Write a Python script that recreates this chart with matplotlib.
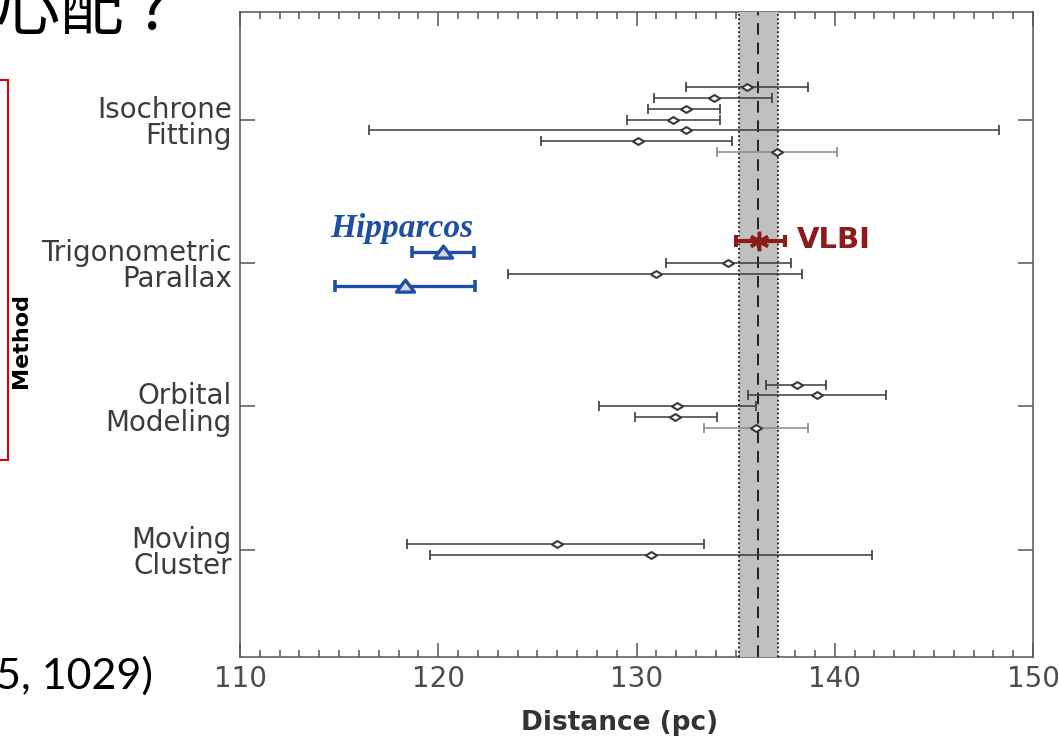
import matplotlib
matplotlib.use('Agg')
import matplotlib.pyplot as plt
import matplotlib.transforms as mtransforms
from matplotlib.path import Path
from matplotlib.patches import Rectangle
import numpy as np

W, H = 1058, 736

# ---------------- data ----------------
methods = ['Isochrone\nFitting', 'Trigonometric\nParallax', 'Orbital\nModeling', 'Moving\nCluster']
method_pos = [3, 2, 1, 0]

iso_dist = [135.56, 133.9, 132.5, 131.85, 132.5, 130.07, 137.1]
iso_lo = [132.5, 130.9, 130.6, 129.5, 116.5, 125.2, 134.07]
iso_hi = [138.65, 136.85, 134.2, 134.2, 148.3, 134.8, 140.1]
iso_off = [0.225, 0.15, 0.075, 0.0, -0.075, -0.15, -0.225]
iso_light = [False, False, False, False, False, False, True]

trig_dist = [134.63, 130.96]
trig_lo = [131.5, 123.5]
trig_hi = [137.78, 138.37]
trig_off = [0.0, -0.075]

hip_dist = [120.24, 118.33]
hip_lo = [118.7, 114.8]
hip_hi = [121.8, 121.85]
hip_off = [0.075, -0.16]

vlbi_dist = [136.18]
vlbi_lo = [135.02]
vlbi_hi = [137.5]
vlbi_off = [0.15]

orb_dist = [138.08, 139.1, 132.05, 131.95, 136.04]
orb_lo = [136.55, 135.64, 128.1, 129.9, 133.43]
orb_hi = [139.58, 142.6, 136.04, 134.04, 138.67]
orb_off = [0.15, 0.075, 0.0, -0.075, -0.15]
orb_light = [False, False, False, False, True]

mov_dist = [126.0, 130.74]
mov_lo = [118.4, 119.6]
mov_hi = [133.4, 141.9]
mov_off = [0.035, -0.04]

band_center = 136.15
band_lo = 135.15
band_hi = 137.14

x_ticks = [110, 120, 130, 140, 150]

# ---------------- figure ----------------
fig = plt.figure(figsize=(W / 100, H / 100), dpi=100)
fig.patch.set_facecolor('white')
ax = fig.add_axes([240 / W, 1 - 657 / H, (1033 - 240) / W, (657 - 12) / H])
ax.set_xlim(110, 150)
ax.set_ylim(-0.75, 3.75)

spine_c = '#555555'
for s in ax.spines.values():
    s.set_color(spine_c)
    s.set_linewidth(1.1)

ax.set_xticks(x_ticks)
ax.set_xticklabels([str(v) for v in x_ticks])
ax.set_xticks(np.arange(110, 151, 1), minor=True)
ax.tick_params(axis='x', which='major', direction='in', length=10, width=1.1,
               top=True, bottom=True, color=spine_c, labelcolor='#4d4d4d',
               labelsize=20, pad=6)
ax.tick_params(axis='x', which='minor', direction='in', length=5, width=1.1,
               top=True, bottom=True, color=spine_c)
ax.set_yticks(method_pos)
ax.set_yticklabels([])
ax.tick_params(axis='y', which='major', direction='in', length=11, width=1.1,
               left=True, right=True, color=spine_c)

# band (drawn above spines/ticks, as in the reference)
ax.axvspan(band_lo, band_hi, color='#c0c0c0', zorder=2.6, clip_on=False, lw=0)
for xv in (band_lo, band_hi):
    ax.axvline(xv, color='black', lw=1.2, linestyle=(0, (1.0, 1.6)), zorder=2.7, clip_on=False)
ax.axvline(band_center, color='#222222', lw=1.4, linestyle=(0, (6, 4)), zorder=2.8, clip_on=False)

diamond = Path([(-1, 0), (0, 0.62), (1, 0), (0, -0.62), (-1, 0)],
               [Path.MOVETO, Path.LINETO, Path.LINETO, Path.LINETO, Path.CLOSEPOLY])
tri = Path([(-1, -0.62), (1, -0.62), (0, 0.7), (-1, -0.62)],
           [Path.MOVETO, Path.LINETO, Path.LINETO, Path.CLOSEPOLY])


def draw_group(dist, lo, hi, off, base, light=None):
    n = len(dist)
    if light is None:
        light = [False] * n
    for i in range(n):
        c = '#8a8a8a' if light[i] else '#3a3a3a'
        y = base + off[i]
        ax.errorbar([dist[i]], [y], xerr=[[dist[i] - lo[i]], [hi[i] - dist[i]]],
                    fmt='none', ecolor=c, elinewidth=1.1, capsize=3.5, capthick=1.2, zorder=3)
        ax.plot([dist[i]], [y], linestyle='none', marker=diamond, ms=8,
                mfc='white', mec='#3a3a3a', mew=1.5, zorder=4)


draw_group(iso_dist, iso_lo, iso_hi, iso_off, 3, iso_light)
draw_group(trig_dist, trig_lo, trig_hi, trig_off, 2)
draw_group(orb_dist, orb_lo, orb_hi, orb_off, 1, orb_light)
draw_group(mov_dist, mov_lo, mov_hi, mov_off, 0)

# Hipparcos
blue = '#1f4fa2'
for i in range(len(hip_dist)):
    y = 2 + hip_off[i]
    ax.errorbar([hip_dist[i]], [y], xerr=[[hip_dist[i] - hip_lo[i]], [hip_hi[i] - hip_dist[i]]],
                fmt='none', ecolor=blue, elinewidth=2.4, capsize=4.5, capthick=2.6, zorder=3)
    ax.plot([hip_dist[i]], [y], linestyle='none', marker=tri, ms=13, mfc='#d8d8e0',
            mec=blue, mew=2.4, zorder=4)

# VLBI
red = '#8c1c1c'
ax.errorbar(vlbi_dist, [2 + vlbi_off[0]], xerr=[[vlbi_dist[0] - vlbi_lo[0]], [vlbi_hi[0] - vlbi_dist[0]]],
            fmt='none', ecolor=red, elinewidth=3.0, capsize=4.5, capthick=3.0, zorder=5)
ax.plot(vlbi_dist, [2 + vlbi_off[0]], linestyle='none', marker=(6, 2, 0), ms=14,
        mec=red, mew=2.5, zorder=6)

# annotations inside the plot
fig.text(402 / W, 1 - 237 / H, 'Hipparcos', family='Liberation Serif', weight='bold',
         style='italic', fontsize=24, color=blue, ha='center', va='baseline')
fig.text(797 / W, 1 - 248 / H, 'VLBI', family='DejaVu Sans', weight='bold',
         fontsize=21, color=red, ha='left', va='baseline')

# category labels (last line's baseline 24.5 px below the category tick)
trans = mtransforms.blended_transform_factory(ax.transAxes, ax.transData)
t1 = mtransforms.offset_copy(trans, fig=fig, x=-8, y=-24.5, units='dots')
for name, yp in zip(methods, method_pos):
    ax.text(0, yp, name, transform=t1, ha='right', va='baseline', multialignment='right',
            fontsize=20, linespacing=0.92, color='#3c3c3c', clip_on=False)

# x axis title
fig.text(620 / W, 1 - 730 / H, 'Distance (pc)', family='DejaVu Sans', weight='bold',
         fontsize=19, color='#333333', ha='center', va='baseline')

# slide overlay elements
fig.text(21 / W, 1 - 341 / H, 'Method', family='DejaVu Sans', weight='bold',
         fontsize=16, color='black', rotation=90, ha='center', va='center')
fig.add_artist(Rectangle((-60 / W, 1 - 460 / H), 68.3 / W, 380 / H, transform=fig.transFigure,
                         fill=False, edgecolor='#e00000', lw=1.5))
fig.text(-4 / W, 1 - 689 / H, '5, 1029)', family='Lato', fontsize=31, color='black',
         ha='left', va='baseline')
fig.text(-4 / W, 1 - 28.5 / H, '心配 ?', family=['Noto Sans CJK JP', 'DejaVu Sans'],
         fontsize=46, color='black', ha='left', va='baseline')

fig.savefig('out.png', dpi=100, facecolor='white')
